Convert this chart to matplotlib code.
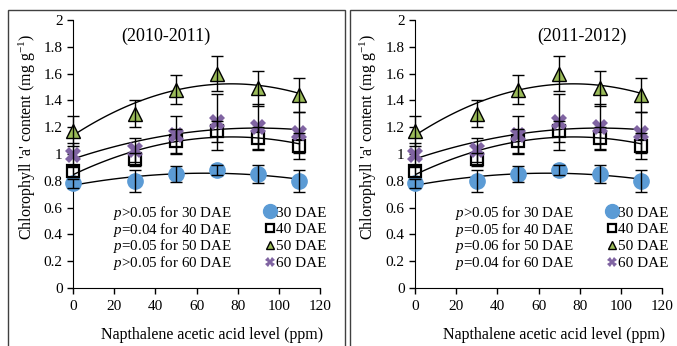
import numpy as np
import matplotlib.pyplot as plt
from matplotlib.lines import Line2D
from matplotlib.patches import Rectangle
from matplotlib.ticker import FormatStrFormatter

plt.rcParams['font.family'] = 'Liberation Serif'
plt.rcParams['mathtext.fontset'] = 'custom'
plt.rcParams['mathtext.rm'] = 'Liberation Serif'
plt.rcParams['mathtext.it'] = 'Liberation Serif:italic'

naa = np.array([0, 30, 50, 70, 90, 110])

dae30 = np.array([0.78, 0.80, 0.85, 0.88, 0.85, 0.80])
dae30_err = np.array([0.03, 0.08, 0.06, 0.04, 0.07, 0.08])
dae40 = np.array([0.87, 0.96, 1.10, 1.17, 1.12, 1.06])
dae40_err = np.array([0.04, 0.05, 0.09, 0.08, 0.08, 0.10])
dae50 = np.array([1.17, 1.30, 1.48, 1.60, 1.49, 1.44])
dae50_err = np.array([0.11, 0.10, 0.11, 0.13, 0.13, 0.13])
dae60 = np.array([0.99, 1.03, 1.14, 1.24, 1.20, 1.16])
dae60_err = np.array([0.09, 0.09, 0.14, 0.21, 0.17, 0.15])

titles = ['(2010-2011)', '(2011-2012)']
title_x = [45, 81]
p_texts = [
    [r'$\it{p}$>0.05 for 30 DAE', r'$\it{p}$=0.04 for 40 DAE',
     r'$\it{p}$=0.05 for 50 DAE', r'$\it{p}$>0.05 for 60 DAE'],
    [r'$\it{p}$>0.05 for 30 DAE', r'$\it{p}$=0.05 for 40 DAE',
     r'$\it{p}$=0.06 for 50 DAE', r'$\it{p}$=0.04 for 60 DAE'],
]
labels = ['30 DAE', '40 DAE', '50 DAE', '60 DAE']

series = [
    (dae30, dae30_err, dict(marker='o', ms=11, mfc='#5B9BD5', mec='#5B9BD5')),
    (dae40, dae40_err, dict(marker='s', ms=8.5, mfc='none', mec='black', mew=1.6)),
    (dae50, dae50_err, dict(marker='^', ms=10.5, mfc='#9BBB59', mec='black', mew=1.0)),
    (dae60, dae60_err, dict(marker='X', ms=11, mfc='#8064A2', mec='#8064A2', mew=0)),
]

fig = plt.figure(figsize=(6.77, 3.46), dpi=100)

# chart frames
fig.patches.append(Rectangle((8 / 677, -0.05), 337 / 677, 1.05 - 10 / 346,
                             transform=fig.transFigure, fill=False,
                             edgecolor='#404040', lw=1))
fig.patches.append(Rectangle((350 / 677, -0.05), 340 / 677, 1.05 - 10 / 346,
                             transform=fig.transFigure, fill=False,
                             edgecolor='#404040', lw=1))

lefts = [73 / 677, 415 / 677]
ylab_x = [-0.14, -0.144]
xs = np.linspace(0, 110, 100)

for k in range(2):
    ax = fig.add_axes([lefts[k], 58 / 346, 247 / 677, 268 / 346])
    for y, err, st in series:
        c = np.polyfit(naa, y, 2)
        ax.plot(xs, np.polyval(c, xs), color='black', lw=1, zorder=2)
        ax.plot(naa, y, ls='none', zorder=3, clip_on=False, **st)
        ax.errorbar(naa, y, yerr=err, fmt='none', ecolor='black',
                    elinewidth=1, capsize=4, capthick=1, zorder=4,
                    clip_on=False)

    ax.set_xlim(0, 120)
    ax.set_ylim(0, 2)
    ax.set_xticks(np.arange(0, 121, 20))
    ax.set_yticks(np.arange(0, 2.01, 0.2))
    ax.yaxis.set_major_formatter(FormatStrFormatter('%g'))
    ax.spines['top'].set_visible(False)
    ax.spines['right'].set_visible(False)
    ax.tick_params(direction='out', length=4, width=1, labelsize=11)
    ax.tick_params(axis='x', pad=5)
    ax.set_xlabel('Napthalene acetic acid level (ppm)', fontsize=11.5)
    ax.set_ylabel("Chlorophyll 'a' content (mg g$^{-1}$)", fontsize=11.5)
    ax.xaxis.set_label_coords(0.563, -0.146)
    ax.yaxis.set_label_coords(ylab_x[k], 0.565)
    ax.patch.set_alpha(0)

    ax.text(title_x[k], 1.88, titles[k], ha='center', va='center', fontsize=13)

    for i, t in enumerate(p_texts[k]):
        ax.text(19.5, 0.56 - i * 0.125, t, ha='left', va='center', fontsize=10.8)

    handles = [
        Line2D([], [], ls='none', marker='o', ms=10, mfc='#5B9BD5', mec='#5B9BD5'),
        Line2D([], [], ls='none', marker='s', ms=5.5, mfc='none', mec='black', mew=1.6),
        Line2D([], [], ls='none', marker='^', ms=6, mfc='#9BBB59', mec='black', mew=1.0),
        Line2D([], [], ls='none', marker='X', ms=7, mfc='#8064A2', mec='#8064A2', mew=0),
    ]
    ax.legend(handles, labels, loc='center left', bbox_to_anchor=(92.5, 0.373),
              bbox_transform=ax.transData, frameon=False, fontsize=11,
              handlelength=0.8, handletextpad=0.05, labelspacing=0.2,
              borderpad=0, borderaxespad=0)

fig.savefig('out.png', dpi=100)
